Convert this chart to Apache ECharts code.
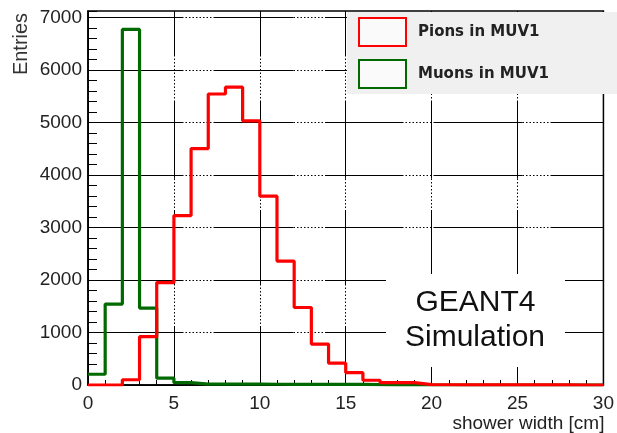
<!DOCTYPE html>
<html>
<head>
<meta charset="utf-8">
<title>Shower width in MUV1</title>
<script src="https://cdn.jsdelivr.net/npm/echarts@6/dist/echarts.min.js"></script>
<style>
  html, body { margin: 0; padding: 0; background: #fff; }
  #chart { width: 617px; height: 433px; }
</style>
</head>
<body>
<div id="chart"></div>
<script>
// Histogram bin edges along the shower width axis [cm]
const binEdges = [0, 1, 2, 3, 4, 5, 6, 7, 8, 9, 10, 11, 12, 13, 14, 15,
                  16, 17, 18, 19, 20, 21, 22, 23, 24, 25, 26, 27, 28, 29, 30];

// Entries per 1 cm bin
const pionCounts = [0, 0, 100, 920, 1950, 3225, 4500, 5540, 5670, 5030,
                    3595, 2360, 1475, 780, 415, 235, 90, 45, 45, 8,
                    5, 4, 3, 2, 2, 1, 1, 1, 0, 0];
const muonCounts = [205, 1540, 6770, 1465, 130, 45, 18, 16, 15, 15,
                    14, 13, 12, 12, 10, 10, 8, 0, 0, 0,
                    0, 0, 0, 0, 0, 0, 0, 0, 0, 0];

const seriesNames = ['Pions in MUV1', 'Muons in MUV1'];
const xTickValues = [0, 5, 10, 15, 20, 25, 30];
const yTickValues = [0, 1000, 2000, 3000, 4000, 5000, 6000, 7000];

// Turn per-bin counts into step-line points (left edge of each bin, plus the last right edge)
function histPoints(counts) {
  const pts = counts.map((c, i) => [binEdges[i], c]);
  pts.push([binEdges[binEdges.length - 1], counts[counts.length - 1]]);
  return pts;
}

// Grid lines alternate between solid runs and fine dotted runs
function dashPattern(segs) {
  const out = [];
  segs.forEach(([kind, len]) => {
    if (kind === 's') {
      out.push(len, 0);
    } else {
      const n = Math.round(len / 3.5);
      for (let i = 0; i < n; i++) out.push(1.5, 2);
    }
  });
  return out;
}
const hDash = dashPattern([['s', 94], ['d', 33], ['s', 80], ['d', 33], ['s', 77],
                           ['d', 31], ['s', 89], ['d', 27], ['s', 90]]);
const vDash = dashPattern([['s', 44], ['d', 45], ['s', 78], ['d', 31], ['s', 74],
                           ['d', 42], ['s', 80]]);

// Only every fifth horizontal line (the 1000 steps) is visible
const hLineColors = ['#000', 'rgba(0,0,0,0)', 'rgba(0,0,0,0)', 'rgba(0,0,0,0)', 'rgba(0,0,0,0)'];

const FONT = 'Liberation Sans, Arial, Helvetica, sans-serif';

const chart = echarts.init(document.getElementById('chart'), null, { renderer: 'canvas' });

chart.setOption({
  animation: false,
  backgroundColor: '#ffffff',
  grid: {
    left: 88, right: 8, top: 11, bottom: 48,
    show: true, borderColor: '#000', borderWidth: 1.5, backgroundColor: 'transparent'
  },
  legend: {
    orient: 'vertical',
    left: 347, top: 12,
    padding: [5, 80, 5, 11],
    itemGap: 12,
    itemWidth: 47, itemHeight: 28,
    backgroundColor: '#f0f0f0',
    selectedMode: false,
    textStyle: {
      fontFamily: 'DejaVu Sans, sans-serif', fontWeight: 'bold', fontSize: 15,
      color: '#222', padding: [0, 0, 0, 7]
    },
    data: [
      { name: seriesNames[0], icon: 'rect',
        itemStyle: { color: '#fafafa', borderColor: '#ff0000', borderWidth: 2 } },
      { name: seriesNames[1], icon: 'rect',
        itemStyle: { color: '#fafafa', borderColor: '#006a00', borderWidth: 2 } }
    ]
  },
  xAxis: {
    type: 'value', min: 0, max: 30, interval: 5,
    name: 'shower width [cm]',
    nameLocation: 'end', nameGap: 1,
    nameTextStyle: {
      fontFamily: FONT, fontSize: 19, color: '#222',
      align: 'right', verticalAlign: 'top', padding: [29, 0, 0, 0]
    },
    axisLine: { show: true, onZero: false, lineStyle: { color: '#000', width: 1.5 } },
    axisTick: { show: true, inside: true, length: 10, lineStyle: { color: '#000', width: 1 } },
    minorTick: { show: true, splitNumber: 5, length: 5, lineStyle: { color: '#000', width: 1 } },
    axisLabel: {
      fontFamily: FONT, fontSize: 19, color: '#222', margin: 9,
      formatter: v => (xTickValues.indexOf(v) >= 0 ? String(v) : '')
    },
    splitLine: { show: true, lineStyle: { color: '#000', width: 1, type: vDash } }
  },
  yAxis: {
    type: 'value', min: 0, max: 7120, interval: 200,
    axisLine: { show: true, onZero: false, lineStyle: { color: '#000', width: 1.5 } },
    axisTick: { show: true, inside: true, length: 9, lineStyle: { color: '#000', width: 1 } },
    axisLabel: {
      fontFamily: FONT, fontSize: 19, color: '#222', margin: 6,
      formatter: v => (yTickValues.indexOf(v) >= 0 ? String(v) : '')
    },
    splitLine: { show: true, lineStyle: { color: hLineColors, width: 1, type: hDash } }
  },
  graphic: [
    { type: 'rect', z: 1, shape: { x: 386, y: 274, width: 179, height: 93 },
      style: { fill: '#ffffff' } },
    { type: 'text', z: 5, x: 475.5, y: 302.5,
      style: { text: 'GEANT4', font: '30px ' + FONT, fill: '#111', align: 'center', verticalAlign: 'middle' } },
    { type: 'text', z: 5, x: 475, y: 338,
      style: { text: 'Simulation', font: '30px ' + FONT, fill: '#111', align: 'center', verticalAlign: 'middle' } },
    { type: 'text', z: 5, x: 21, y: 44, rotation: Math.PI / 2,
      style: { text: 'Entries', font: '20px ' + FONT, fill: '#333', align: 'center', verticalAlign: 'middle' } }
  ],
  series: [
    {
      name: seriesNames[0], type: 'line', step: 'end', symbol: 'none', z: 4,
      color: '#ff0000',
      lineStyle: { color: '#ff0000', width: 3.2 },
      data: histPoints(pionCounts)
    },
    {
      name: seriesNames[1], type: 'line', step: 'end', symbol: 'none', z: 3,
      color: '#006a00',
      lineStyle: { color: '#006a00', width: 3.2 },
      data: histPoints(muonCounts)
    }
  ]
});
</script>
</body>
</html>
